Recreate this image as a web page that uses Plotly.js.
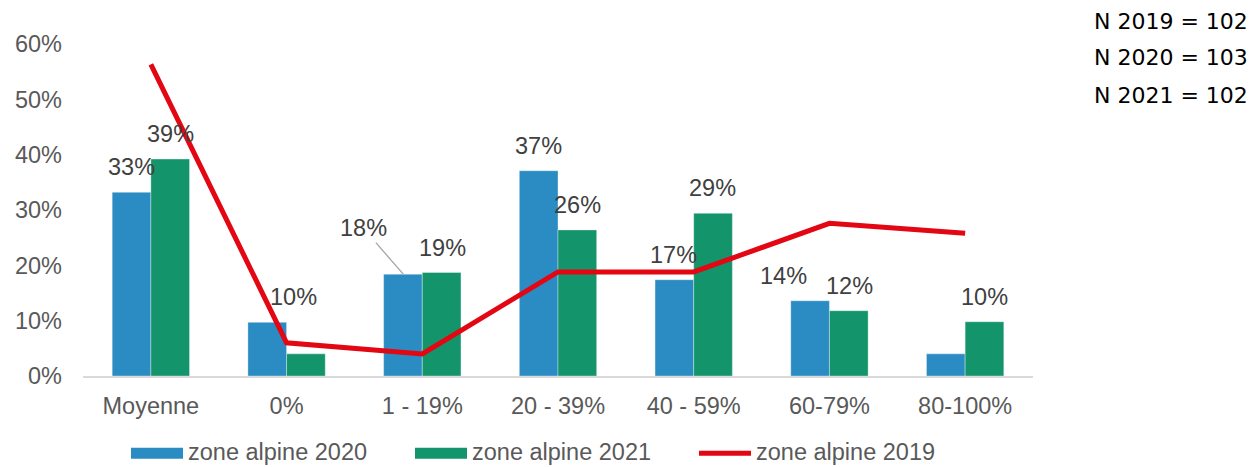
<!DOCTYPE html>
<html>
<head>
<meta charset="utf-8">
<script src="https://cdn.plot.ly/plotly-3.0.1.min.js"></script>
<style>html,body{margin:0;padding:0;background:#fff;}#chart{width:1258px;height:467px;}</style>
</head>
<body>
<div id="chart"></div>
<script>
// ---- data ----
const categories = ['Moyenne', '0%', '1 - 19%', '20 - 39%', '40 - 59%', '60-79%', '80-100%'];
const values2020 = [33.2, 9.7, 18.4, 37.1, 17.4, 13.6, 4.0];
const values2021 = [39.2, 4.0, 18.7, 26.4, 29.4, 11.8, 9.8];
const values2019 = [56.3, 6.0, 4.0, 18.8, 18.8, 27.6, 25.8];
const seriesNames = ['zone alpine 2020', 'zone alpine 2021', 'zone alpine 2019'];
const yTickVals = [0, 10, 20, 30, 40, 50, 60];
const yTickText = ['0%', '10%', '20%', '30%', '40%', '50%', '60%'];
const nLines = ['N 2019 = 102', 'N 2020 = 103', 'N 2021 = 102'];

// ---- style ----
const BLUE = '#2B8CC4', GREEN = '#13946A', RED = '#E30613';
const TXT = '#404040', AX = '#595959';
const FONT = 'Liberation Sans, Arial, sans-serif';
const FS = 23.5;
// label placement (px offset from category center; null = no label)
const dx2020 = [-19, 7, 'leader', -20, -20, -46, null];
const dx2021 = [20, null, 20, 19, 19, 20, 19];

const L = 83, R = 1033, T = 43.5, B = 376.5, W = R - L, H = B - T;
const px = x => (x - L) / W, py = y => (B - y) / H;

const traces = [
  {type: 'bar', x: categories, y: values2020, name: seriesNames[0],
   marker: {color: BLUE, line: {color: 'rgba(255,255,255,0.35)', width: 1}}, showlegend: false, hoverinfo: 'none'},
  {type: 'bar', x: categories, y: values2021, name: seriesNames[1],
   marker: {color: GREEN, line: {color: 'rgba(255,255,255,0.35)', width: 1}}, showlegend: false, hoverinfo: 'none'},
  {type: 'scatter', mode: 'lines', x: categories, y: values2019, name: seriesNames[2],
   line: {color: RED, width: 5}, showlegend: false, hoverinfo: 'none'}
];

const annotations = [];
const lblFont = {family: FONT, size: FS, color: TXT};
categories.forEach((c, i) => {
  const d = dx2020[i];
  if (d === 'leader') {
    annotations.push({x: c, y: values2020[i], xref: 'x', yref: 'y', xshift: -19,
      text: Math.round(values2020[i]) + '%', font: lblFont, showarrow: true, arrowhead: 0,
      arrowwidth: 1.3, arrowcolor: '#A6A6A6', ax: -40, ay: -46, standoff: 0});
  } else if (d !== null) {
    annotations.push({x: c, y: values2020[i], xref: 'x', yref: 'y', xshift: d, yshift: 25,
      text: Math.round(values2020[i]) + '%', font: lblFont, showarrow: false, yanchor: 'middle'});
  }
  const d2 = dx2021[i];
  if (d2 !== null) {
    annotations.push({x: c, y: values2021[i], xref: 'x', yref: 'y', xshift: d2, yshift: 25,
      text: Math.round(values2021[i]) + '%', font: lblFont, showarrow: false, yanchor: 'middle'});
  }
});

// N annotations
const nY = [21, 57.5, 95];
nLines.forEach((t, i) => annotations.push({xref: 'paper', yref: 'paper', x: px(1171), y: py(nY[i]),
  xanchor: 'center', yanchor: 'middle', text: t, showarrow: false,
  font: {family: 'DejaVu Sans, sans-serif', size: 22, color: '#000'}}));

// custom legend
const legY = 454;
const legItems = [
  {x0: 131, x1: 183, tx: 187, color: BLUE, kind: 'rect', name: seriesNames[0]},
  {x0: 415, x1: 467, tx: 471, color: GREEN, kind: 'rect', name: seriesNames[1]},
  {x0: 699, x1: 751, tx: 755, color: RED, kind: 'line', name: seriesNames[2]}
];
const shapes = [];
legItems.forEach(it => {
  if (it.kind === 'rect') {
    shapes.push({type: 'rect', xref: 'paper', yref: 'paper', x0: px(it.x0), x1: px(it.x1),
      y0: py(legY + 5.5), y1: py(legY - 5.5), fillcolor: it.color, line: {width: 0}});
  } else {
    shapes.push({type: 'line', xref: 'paper', yref: 'paper', x0: px(it.x0), x1: px(it.x1),
      y0: py(legY), y1: py(legY), line: {color: it.color, width: 5}});
  }
  annotations.push({xref: 'paper', yref: 'paper', x: px(it.tx), y: py(467), xanchor: 'left',
    yanchor: 'bottom', borderpad: 0, text: it.name, showarrow: false,
    font: {family: FONT, size: FS, color: AX}});
});

const layout = {
  width: 1258, height: 467,
  margin: {l: L, r: 1258 - R, t: T, b: 467 - B, pad: 0},
  paper_bgcolor: '#fff', plot_bgcolor: '#fff',
  barmode: 'group', bargap: 0.43, bargroupgap: 0,
  showlegend: false,
  font: {family: FONT, size: FS, color: AX},
  xaxis: {type: 'category', range: [-0.5, 6.5], showgrid: false, showline: true,
    linecolor: '#D9D9D9', linewidth: 2, ticks: '', tickfont: {family: FONT, size: FS, color: AX},
    ticklabelstandoff: 8, fixedrange: true},
  yaxis: {range: [0, 60], tickvals: yTickVals, ticktext: yTickText, showgrid: false, zeroline: false,
    showline: false, ticks: '', tickfont: {family: FONT, size: FS, color: AX}, ticklabelstandoff: 20,
    fixedrange: true},
  annotations: annotations,
  shapes: shapes
};

Plotly.newPlot('chart', traces, layout, {displayModeBar: false, staticPlot: true});
</script>
</body>
</html>
